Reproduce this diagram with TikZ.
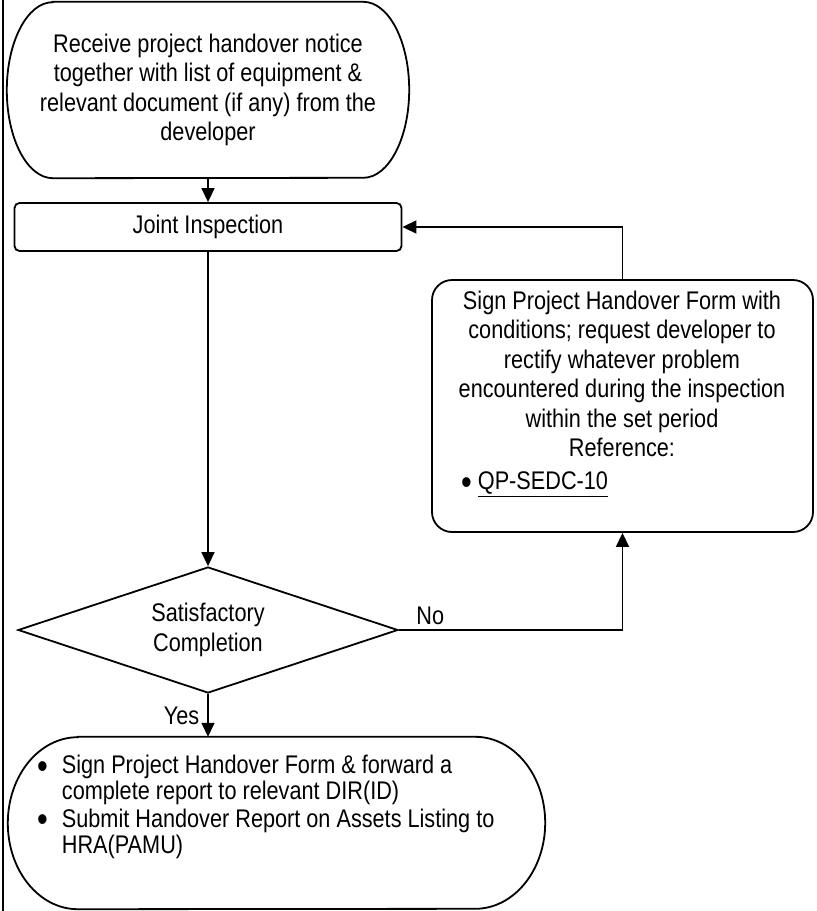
\documentclass[tikz,border=0pt]{standalone}
\usepackage{fontspec}
\setmainfont[FakeStretch=0.85]{Liberation Sans}
\usetikzlibrary{shapes.geometric,arrows.meta}

\newcommand{\bul}{\raisebox{-4.5pt}{\fontsize{36}{25}\selectfont\textbullet}} % 较大的圆点

\begin{document}
\begin{tikzpicture}[x=1pt,y=-1pt,
	txt/.style={font=\fontsize{25.5}{29.5}\selectfont,align=center,inner sep=0pt},
	frame/.style={line width=1.8pt},
	arr/.style={line width=1.5pt,-{Triangle[length=14pt,width=13pt]}}]
	
	% 定义图的范围
	\useasboundingbox (0,0) rectangle (817,911);
	
	% 左侧边框线
	\draw[line width=2pt] (3,0) -- (3,911);
	
	% 定义端点框的参数
	\def\rx{46} % 起始框两端椭圆的横半径
	\def\ry{88} % 起始框两端椭圆的纵半径
	
	% 起始框 (文字和外形)
	\node[txt,minimum width=402pt,minimum height=176pt] (start) at (208,90)
		{Receive project handover notice\\together with list of equipment \&\\relevant document (if any) from the\\developer};
	\draw[frame] ([xshift=\rx pt]start.north west) -- ([xshift=-\rx pt]start.north east)
		arc[start angle=90,end angle=-90,x radius=\rx pt,y radius=\ry pt]
		-- ([xshift=\rx pt]start.south west)
		arc[start angle=270,end angle=90,x radius=\rx pt,y radius=\ry pt] -- cycle;
	
	% 联合检查
	\node[txt,draw,frame,rounded corners=5pt,minimum width=387pt,minimum height=48pt] (insp) at (208,227) {Joint Inspection};
	
	% 判断菱形
	\node[txt,draw,frame,diamond,aspect=3,minimum width=380pt,minimum height=126pt] (dec) at (208,630) {Satisfactory\\Completion};
	
	% 右侧整改框
	\node[draw,frame,rounded corners=20pt,minimum width=381pt,minimum height=252pt] (fix) at (622.5,406) {};
	\node[txt] (fixtxt) at (622,374) {Sign Project Handover Form with\\conditions; request developer to\\rectify whatever problem\\encountered during the inspection\\within the set period\\Reference:};
	\node[txt,anchor=west] (fixref) at (461,484) {\bul\hspace{6pt}\underline{QP-SEDC-10}};
	
	% 结束框
	\def\rxb{70} % 结束框两端椭圆的横半径
	\def\ryb{86} % 结束框两端椭圆的纵半径
	\node[minimum width=537pt,minimum height=172pt,inner sep=0pt] (done) at (276.5,823) {};
	\draw[frame] ([xshift=\rxb pt]done.north west) -- ([xshift=-\rxb pt]done.north east)
		arc[start angle=90,end angle=-90,x radius=\rxb pt,y radius=\ryb pt]
		-- ([xshift=\rxb pt]done.south west)
		arc[start angle=270,end angle=90,x radius=\rxb pt,y radius=\ryb pt] -- cycle;
	\node[txt,anchor=west,font=\fontsize{25.5}{25}\selectfont] (donetxt) at (37,808)
		{\begin{tabular}{@{}l@{\hspace{14pt}}l@{}}
			\bul & Sign Project Handover Form \& forward a\\
			& complete report to relevant DIR(ID)\\[2pt]
			\bul & Submit Handover Report on Assets Listing to\\
			& HRA(PAMU)
		\end{tabular}};
	
	% 连接线
	\draw[arr] (start.south) -- (insp.north);
	\draw[arr] (insp.south) -- (dec.north);
	\draw[arr] (dec.south) -- node[txt,midway,left=8pt] (yes) {Yes} (dec.south |- done.north);
	\draw[arr] (dec.east) -| node[txt,pos=0.07,above=5pt] (no) {No} (fix.south);
	\draw[arr] (fix.north) |- (insp.east);
	
\end{tikzpicture}
\end{document}
